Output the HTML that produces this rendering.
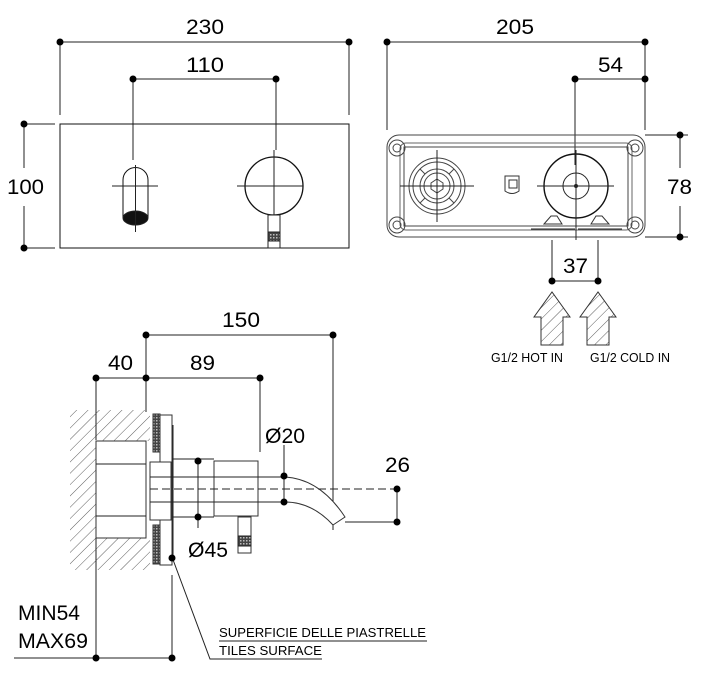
<!DOCTYPE html>
<html><head><meta charset="utf-8"><style>html,body{margin:0;padding:0;background:#fff}svg{display:block}text{font-family:"Liberation Sans",Arial,sans-serif;fill:#000}</style></head><body>
<svg width="708" height="674" viewBox="0 0 708 674" xmlns="http://www.w3.org/2000/svg">
<defs>
<pattern id="h" width="8" height="8" patternUnits="userSpaceOnUse" patternTransform="rotate(45)"><line x1="0" y1="0" x2="0" y2="8" stroke="#333" stroke-width="0.8"/></pattern>
<pattern id="k" width="3" height="3" patternUnits="userSpaceOnUse"><rect width="3" height="3" fill="#444"/><rect width="1.5" height="1.5" fill="#bbb"/></pattern>
</defs>
<g stroke="#222" stroke-width="1" fill="none">
<!-- top-left front view -->
<line x1="60" y1="42" x2="349" y2="42"/><line x1="60" y1="42" x2="60" y2="115"/><line x1="349" y1="42" x2="349" y2="115"/>
<line x1="133" y1="79" x2="276" y2="79"/><line x1="133" y1="79" x2="133" y2="160"/><line x1="276" y1="79" x2="276" y2="150"/>
<line x1="24" y1="124" x2="24" y2="168"/><line x1="24" y1="206" x2="24" y2="248"/>
<line x1="24" y1="124" x2="55" y2="124"/><line x1="24" y1="248" x2="55" y2="248"/>
<rect x="60" y="124" width="289" height="124" stroke="#111"/>
<path d="M123 218 V180 A12.5 12.5 0 0 1 148 180 V218" stroke="#111"/>
<ellipse cx="135.5" cy="218" rx="12.5" ry="7" fill="#111"/>
<line x1="112" y1="186" x2="158" y2="186"/><line x1="135.5" y1="165" x2="135.5" y2="232"/>
<circle cx="274" cy="186" r="29" stroke="#111" stroke-width="1.3"/>
<line x1="237" y1="186" x2="303" y2="186"/><line x1="274" y1="150" x2="274" y2="222"/>
<rect x="268" y="215" width="12" height="33" fill="#fff"/>
<rect x="268" y="232" width="12" height="9" fill="url(#k)"/>
<!-- top-right -->
<line x1="387" y1="42" x2="645" y2="42"/><line x1="387" y1="42" x2="387" y2="130"/><line x1="645" y1="42" x2="645" y2="130"/>
<line x1="575" y1="79" x2="645" y2="79"/><line x1="575" y1="79" x2="575" y2="165"/>
<line x1="680" y1="135" x2="680" y2="168"/><line x1="680" y1="206" x2="680" y2="237"/>
<line x1="645" y1="135" x2="688" y2="135"/><line x1="645" y1="237" x2="688" y2="237"/>
<rect x="387" y="135" width="258" height="102" rx="12" stroke="#444"/>
<rect x="404" y="147" width="224" height="79" stroke="#444"/>
<rect x="400" y="143" width="232" height="87" rx="6" stroke="#666"/>
<g stroke="#444"><circle cx="397" cy="148" r="8"/><circle cx="397" cy="148" r="4"/><circle cx="635" cy="148" r="8"/><circle cx="635" cy="148" r="4"/><circle cx="397" cy="225" r="8"/><circle cx="397" cy="225" r="4"/><circle cx="635" cy="225" r="8"/><circle cx="635" cy="225" r="4"/></g>
<circle cx="437" cy="186" r="28" stroke="#444"/><circle cx="437" cy="186" r="24" stroke="#444"/><circle cx="437" cy="186" r="17" stroke="#444"/><circle cx="437" cy="186" r="13" stroke="#444"/>
<g stroke="#444"><line x1="437" y1="162" x2="437" y2="169"/><line x1="437" y1="203" x2="437" y2="210"/><line x1="413" y1="186" x2="420" y2="186"/><line x1="454" y1="186" x2="461" y2="186"/><line x1="420" y1="169" x2="425" y2="174"/><line x1="449" y1="198" x2="454" y2="203"/><line x1="454" y1="169" x2="449" y2="174"/><line x1="425" y1="198" x2="420" y2="203"/></g>
<polygon points="437,179 443,183 443,189 437,193 431,189 431,183" stroke="#444"/>
<line x1="400" y1="186" x2="474" y2="186"/><line x1="437" y1="150" x2="437" y2="222"/>
<path d="M505 176 H519 V191 Q512 196 505 191 Z" stroke="#333"/><rect x="509" y="180" width="8" height="8" stroke="#333"/>
<circle cx="576" cy="186" r="32" stroke="#111" stroke-width="1.4"/><circle cx="576" cy="186" r="13" stroke="#222"/><circle cx="576" cy="186" r="1.5" fill="#222"/>
<line x1="537" y1="186" x2="614" y2="186"/><line x1="576" y1="150" x2="576" y2="240"/>
<path d="M544 224 L551 216 H557 L562 224 Z" stroke="#333"/><path d="M591 224 L596 216 H602 L609 224 Z" stroke="#333"/>
<line x1="531" y1="229" x2="575" y2="229"/><line x1="578" y1="229" x2="622" y2="229"/>
<line x1="552" y1="240" x2="552" y2="281"/><line x1="598" y1="240" x2="598" y2="281"/><line x1="552" y1="281" x2="598" y2="281"/>
<path d="M541 345 V317 H534 L552 292 L570 317 H563 V345 Z" fill="url(#h)" stroke="#333"/>
<path d="M587 345 V317 H580 L598 292 L616 317 H609 V345 Z" fill="url(#h)" stroke="#333"/>
<!-- side view -->
<line x1="146" y1="335" x2="333" y2="335"/><line x1="96" y1="378" x2="260" y2="378"/>
<line x1="146" y1="335" x2="146" y2="412"/><line x1="96" y1="378" x2="96" y2="440"/><line x1="96" y1="538" x2="96" y2="658"/>
<line x1="260" y1="378" x2="260" y2="452"/><line x1="333" y1="335" x2="333" y2="530"/>
<path d="M70 410 H150 V441 H96 V538 H150 V570 H70 Z" fill="url(#h)" stroke="none"/>
<rect x="96" y="441" width="50" height="97" fill="#fff" stroke="#333"/>
<line x1="96" y1="464" x2="146" y2="464"/><line x1="96" y1="516" x2="146" y2="516"/>
<rect x="153" y="414" width="7" height="38" fill="url(#k)" stroke="#333"/>
<rect x="153" y="525" width="7" height="39" fill="url(#k)" stroke="#333"/>
<rect x="160" y="415" width="12" height="150" fill="#fff" stroke="#333"/>
<line x1="173" y1="425" x2="173" y2="558"/>
<rect x="150" y="462" width="21" height="58" fill="#fff" stroke="#333"/>
<line x1="172" y1="459" x2="214" y2="459"/><line x1="172" y1="517" x2="214" y2="517"/>
<rect x="214" y="461" width="44" height="55" fill="#fff" stroke="#333"/>
<line x1="150" y1="477" x2="285" y2="477"/><line x1="150" y1="502" x2="285" y2="502"/>
<path d="M285 477 Q320 479 345 517 L333 525 Q312 502 285 502" fill="#fff" stroke="#333"/>
<line x1="150" y1="489" x2="400" y2="489" stroke-dasharray="8 4"/>
<rect x="238" y="517" width="13" height="36" fill="#fff" stroke="#333"/><rect x="238" y="536" width="13" height="10" fill="url(#k)"/>
<line x1="198" y1="461" x2="198" y2="528"/>
<line x1="284" y1="445" x2="284" y2="502"/>
<line x1="397" y1="489" x2="397" y2="522"/><line x1="345" y1="522" x2="397" y2="522"/>
<line x1="14" y1="658" x2="172" y2="658"/><line x1="172" y1="575" x2="172" y2="658"/>
<polyline points="172,557 210,659 322,659"/><line x1="219" y1="641" x2="427" y2="641"/>
</g>
<g fill="#000">
<circle cx="60" cy="42" r="3.5"/><circle cx="349" cy="42" r="3.5"/><circle cx="133" cy="79" r="3.5"/><circle cx="276" cy="79" r="3.5"/>
<circle cx="24" cy="124" r="3.5"/><circle cx="24" cy="248" r="3.5"/>
<circle cx="387" cy="42" r="3.5"/><circle cx="645" cy="42" r="3.5"/><circle cx="575" cy="79" r="3.5"/><circle cx="645" cy="79" r="3.5"/>
<circle cx="680" cy="135" r="3.5"/><circle cx="680" cy="237" r="3.5"/><circle cx="552" cy="281" r="3.5"/><circle cx="598" cy="281" r="3.5"/>
<circle cx="146" cy="335" r="3.5"/><circle cx="333" cy="335" r="3.5"/><circle cx="96" cy="378" r="3.5"/><circle cx="146" cy="378" r="3.5"/><circle cx="260" cy="378" r="3.5"/>
<circle cx="198" cy="461" r="3.5"/><circle cx="198" cy="517" r="3.5"/><circle cx="284" cy="476" r="3.5"/><circle cx="284" cy="502" r="3.5"/>
<circle cx="397" cy="489" r="3.5"/><circle cx="397" cy="522" r="3.5"/><circle cx="172" cy="558" r="3.5"/>
<circle cx="96" cy="658" r="3.5"/><circle cx="172" cy="658" r="3.5"/>
</g>
<g font-size="21">
<text x="186" y="34" textLength="38" lengthAdjust="spacingAndGlyphs">230</text>
<text x="186" y="72" textLength="38" lengthAdjust="spacingAndGlyphs">110</text>
<text x="7" y="194" textLength="37" lengthAdjust="spacingAndGlyphs">100</text>
<text x="496" y="34" textLength="38" lengthAdjust="spacingAndGlyphs">205</text>
<text x="598" y="72" textLength="25" lengthAdjust="spacingAndGlyphs">54</text>
<text x="667" y="194" textLength="25" lengthAdjust="spacingAndGlyphs">78</text>
<text x="563" y="273" textLength="25" lengthAdjust="spacingAndGlyphs">37</text>
<text x="222" y="327" textLength="38" lengthAdjust="spacingAndGlyphs">150</text>
<text x="108" y="370" textLength="25" lengthAdjust="spacingAndGlyphs">40</text>
<text x="190" y="370" textLength="25" lengthAdjust="spacingAndGlyphs">89</text>
<text x="265" y="443" textLength="40" lengthAdjust="spacingAndGlyphs">Ø20</text>
<text x="385" y="472" textLength="25" lengthAdjust="spacingAndGlyphs">26</text>
<text x="188" y="557" textLength="40" lengthAdjust="spacingAndGlyphs">Ø45</text>
<text x="18" y="620" textLength="62" lengthAdjust="spacingAndGlyphs">MIN54</text>
<text x="18" y="648" textLength="70" lengthAdjust="spacingAndGlyphs">MAX69</text>
</g>
<g font-size="13">
<text x="491" y="362" textLength="72" lengthAdjust="spacingAndGlyphs">G1/2 HOT IN</text>
<text x="590" y="362" textLength="80" lengthAdjust="spacingAndGlyphs">G1/2 COLD IN</text>
<text x="219" y="637" textLength="207" lengthAdjust="spacingAndGlyphs">SUPERFICIE DELLE PIASTRELLE</text>
<text x="219" y="655" textLength="103" lengthAdjust="spacingAndGlyphs">TILES SURFACE</text>
</g>
</svg>
</body></html>
